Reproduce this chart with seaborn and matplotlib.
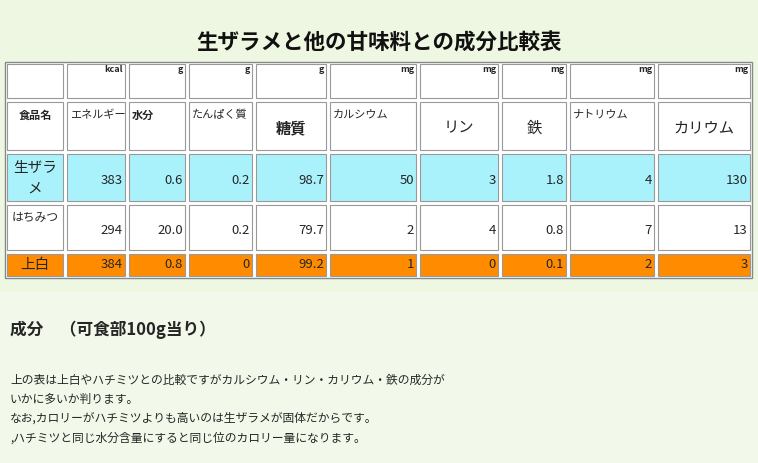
import matplotlib
matplotlib.use("Agg")
import matplotlib.pyplot as plt
from matplotlib.patches import Rectangle
import seaborn as sns

sns.set_theme(style="white", font="Noto Sans CJK JP")

title = "生ザラメと他の甘味料との成分比較表"
columns = ["食品名", "エネルギー", "水分", "たんぱく質", "糖質", "カルシウム", "リン", "鉄", "ナトリウム", "カリウム"]
units = ["", "kcal", "g", "g", "g", "mg", "mg", "mg", "mg", "mg"]
foods = ["生ザラ\nメ", "はちみつ", "上白"]
zarame = ["383", "0.6", "0.2", "98.7", "50", "3", "1.8", "4", "130"]
honey = ["294", "20.0", "0.2", "79.7", "2", "4", "0.8", "7", "13"]
joohaku = ["384", "0.8", "0", "99.2", "1", "0", "0.1", "2", "3"]
row_colors = ["#aaf2fb", "#ffffff", "#ff8c00"]
subtitle = "成分　（可食部100g当り）"
notes = ["上の表は上白やハチミツとの比較ですがカルシウム・リン・カリウム・鉄の成分が",
         "いかに多いか判ります。",
         "なお,カロリーがハチミツよりも高いのは生ザラメが固体だからです。",
         ",ハチミツと同じ水分含量にすると同じ位のカロリー量になります。"]

W, H = 758, 463
fig = plt.figure(figsize=(W / 100, H / 100), dpi=100)
fig.patch.set_facecolor("#eef7e2")
ax = fig.add_axes([0, 0, 1, 1])
ax.set_xlim(0, W); ax.set_ylim(H, 0); ax.axis("off")

ax.text(W / 2, 43, title, ha="center", va="center", fontsize=15.5, fontweight="bold", color="#111")

xe = [5, 65, 127, 187, 254, 328, 418, 500, 568, 656, 752]
ye = [62, 100, 152, 203, 252, 278]
ax.add_patch(Rectangle((xe[0], ye[0]), xe[-1] - xe[0], ye[-1] - ye[0], fc="white", ec="#888", lw=1))
data = [zarame, honey, joohaku]
for r in range(5):
    for c in range(10):
        x0, x1 = xe[c] + 2, xe[c + 1] - 2
        y0, y1 = ye[r] + 2, ye[r + 1] - 2
        fc = "white" if r < 2 else row_colors[r - 2]
        ax.add_patch(Rectangle((x0, y0), x1 - x0, y1 - y0, fc=fc, ec="#999", lw=0.8))
        if r == 0 and units[c]:
            ax.text(x1 - 2, y0 + 6, units[c], ha="right", va="center", fontsize=6.5, fontweight="bold")
        elif r == 1:
            big = columns[c] in ("糖質", "リン", "鉄", "カリウム")
            bold = columns[c] in ("食品名", "水分", "糖質")
            if big:
                ax.text((x0 + x1) / 2, y0 + 26, columns[c], ha="center", va="center", fontsize=11, fontweight="bold" if bold else "normal")
            else:
                ax.text(x0 + 3 if c else (x0 + x1) / 2, y0 + 13, columns[c], ha="left" if c else "center", va="center",
                        fontsize=8, fontweight="bold" if bold else "normal")
        elif r >= 2:
            if c == 0:
                fs = 10.5 if r != 3 else 8.5
                yy = y0 + (24 if r == 2 else 12 if r == 3 else 11)
                ax.text((x0 + x1) / 2, yy, foods[r - 2], ha="center", va="center", fontsize=fs, linespacing=1.6)
            else:
                ax.text(x1 - 2, (y0 + y1) / 2 + (0 if r == 4 else 3), data[r - 2][c - 1], ha="right", va="center", fontsize=9.5)

ax.add_patch(Rectangle((0, 292), W, H - 292, fc="#f3f9ea", ec="none"))
ax.text(10, 330, subtitle, ha="left", va="center", fontsize=12, fontweight="bold")
for i, line in enumerate(notes):
    ax.text(10, 380 + i * 19.3, line, ha="left", va="center", fontsize=8.5)

fig.savefig("out.png", dpi=100, facecolor=fig.get_facecolor())
